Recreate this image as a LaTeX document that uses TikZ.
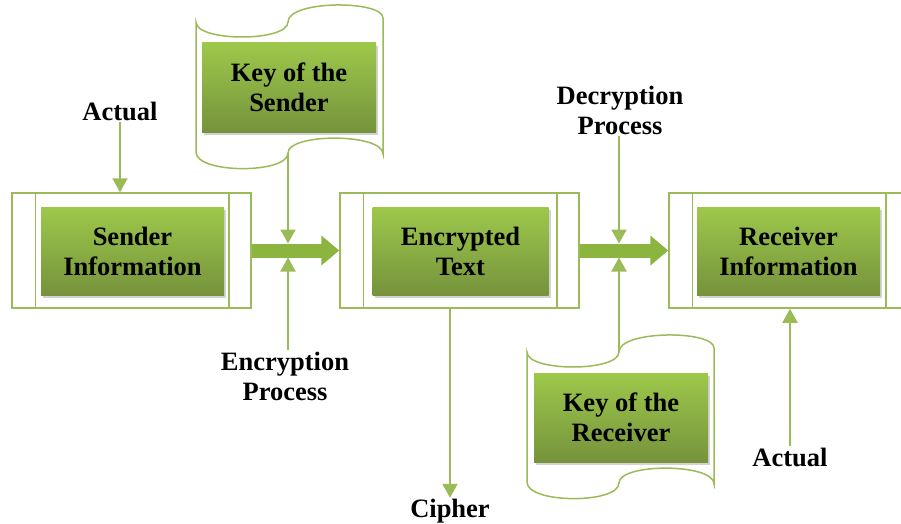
\documentclass[tikz,border=0pt]{standalone}
\usepackage{fontspec}
\setmainfont{Liberation Serif}
\usetikzlibrary{shadows,arrows.meta}

\definecolor{olive}{HTML}{9BBB59}
\definecolor{greentop}{HTML}{9DC84B}
\definecolor{greenbot}{HTML}{76933C}
\definecolor{flowgreen}{HTML}{8CB53F}

\tikzset{
  frame/.style={draw=olive, line width=1.5pt, minimum width=239pt, minimum height=115pt, inner sep=0pt},
  greenbox/.style={top color=greentop, bottom color=greenbot, minimum width=183pt, minimum height=88pt,
    inner sep=0pt, align=center, font=\fontsize{26.5}{30}\selectfont\bfseries,
    drop shadow={opacity=.35, shadow xshift=2pt, shadow yshift=-3pt}},
  tagtext/.style={align=center, inner sep=1pt, font=\fontsize{26.5}{30}\selectfont\bfseries},
  feed/.style={draw=olive, line width=2pt, -{Triangle[width=15pt,length=14pt]}},
  flow/.style={draw=flowgreen, line width=14pt, -{Triangle[width=29pt,length=18pt]}}
}

% punched tape: name, left x, top y
\newcommand{\keytape}[3]{%
  \draw[olive, line width=1.5pt, fill=white]
    (#2,#3) .. controls (#2,#3+20) and (#2+92,#3+20) .. (#2+92,#3)
    .. controls (#2+92,#3-22) and (#2+187,#3-22) .. (#2+187,#3-4)
    -- (#2+187,#3+132)
    .. controls (#2+187,#3+111) and (#2+92,#3+111) .. (#2+92,#3+131)
    .. controls (#2+92,#3+152) and (#2,#3+152) .. (#2,#3+130) -- cycle;
  \coordinate (#1head) at (#2+92,#3);
  \coordinate (#1foot) at (#2+92,#3+131);
}

\begin{document}
\begin{tikzpicture}[x=1pt,y=-1pt]
  \useasboundingbox (0,0) rectangle (901,524);

  \keytape{keyS}{196}{22}
  \keytape{keyR}{527}{352}

  \begin{scope}[every node/.style={frame}]
    \node (sendframe) at (131.5,250.5) {};
    \node (encframe)  at (459.5,250.5) {};
    \node (recvframe) at (788.5,250.5) {};
  \end{scope}
  \foreach \f in {sendframe,encframe,recvframe}
    \draw[olive, line width=1.5pt] ([xshift=24pt]\f.north west) -- ([xshift=24pt]\f.south west)
      ([xshift=-23pt]\f.north east) -- ([xshift=-23pt]\f.south east);

  \begin{scope}[every node/.style={greenbox}]
    \node (sender) at (132.5,251) {Sender\\Information};
    \node[minimum width=176pt] (enc) at (460.5,251) {Encrypted\\Text};
    \node (recv)   at (788.5,251) {Receiver\\Information};
    \node[minimum width=174pt, minimum height=89pt] (keySbox) at (289,87.5)  {Key of the\\Sender};
    \node[minimum width=174pt, minimum height=89pt] (keyRbox) at (621,417.5) {Key of the\\Receiver};
  \end{scope}

  \begin{scope}[every node/.style={tagtext}]
    \node (actS) at (120,111)   {Actual};
    \node (encp) at (285,376)   {Encryption\\Process};
    \node (decp) at (620,110.5) {Decryption\\Process};
    \node (ciph) at (450,511)   {Cipher};
    \node (actR) at (790,457)   {Actual};
  \end{scope}

  \coordinate (encjtop) at (288,243.5);
  \coordinate (encjbot) at (288,257.5);
  \coordinate (decjtop) at (619,243.5);
  \coordinate (decjbot) at (619,257.5);

  \draw[flow] (sendframe.east) -- (encframe.west);
  \draw[flow] (encframe.east) -- (recvframe.west);

  \draw[feed] (actS.south) -- (actS.south |- sendframe.north);
  \draw[feed] (keySfoot) -- (encjtop);
  \draw[feed] (encp.north -| encjbot) -- (encjbot);
  \draw[feed] (decp.south -| decjtop) -- (decjtop);
  \draw[feed] (keyRhead) -- (decjbot);
  \draw[feed] (ciph.north |- encframe.south) -- (ciph.north);
  \draw[feed] (actR.north) -- (actR.north |- recvframe.south);
\end{tikzpicture}
\end{document}
